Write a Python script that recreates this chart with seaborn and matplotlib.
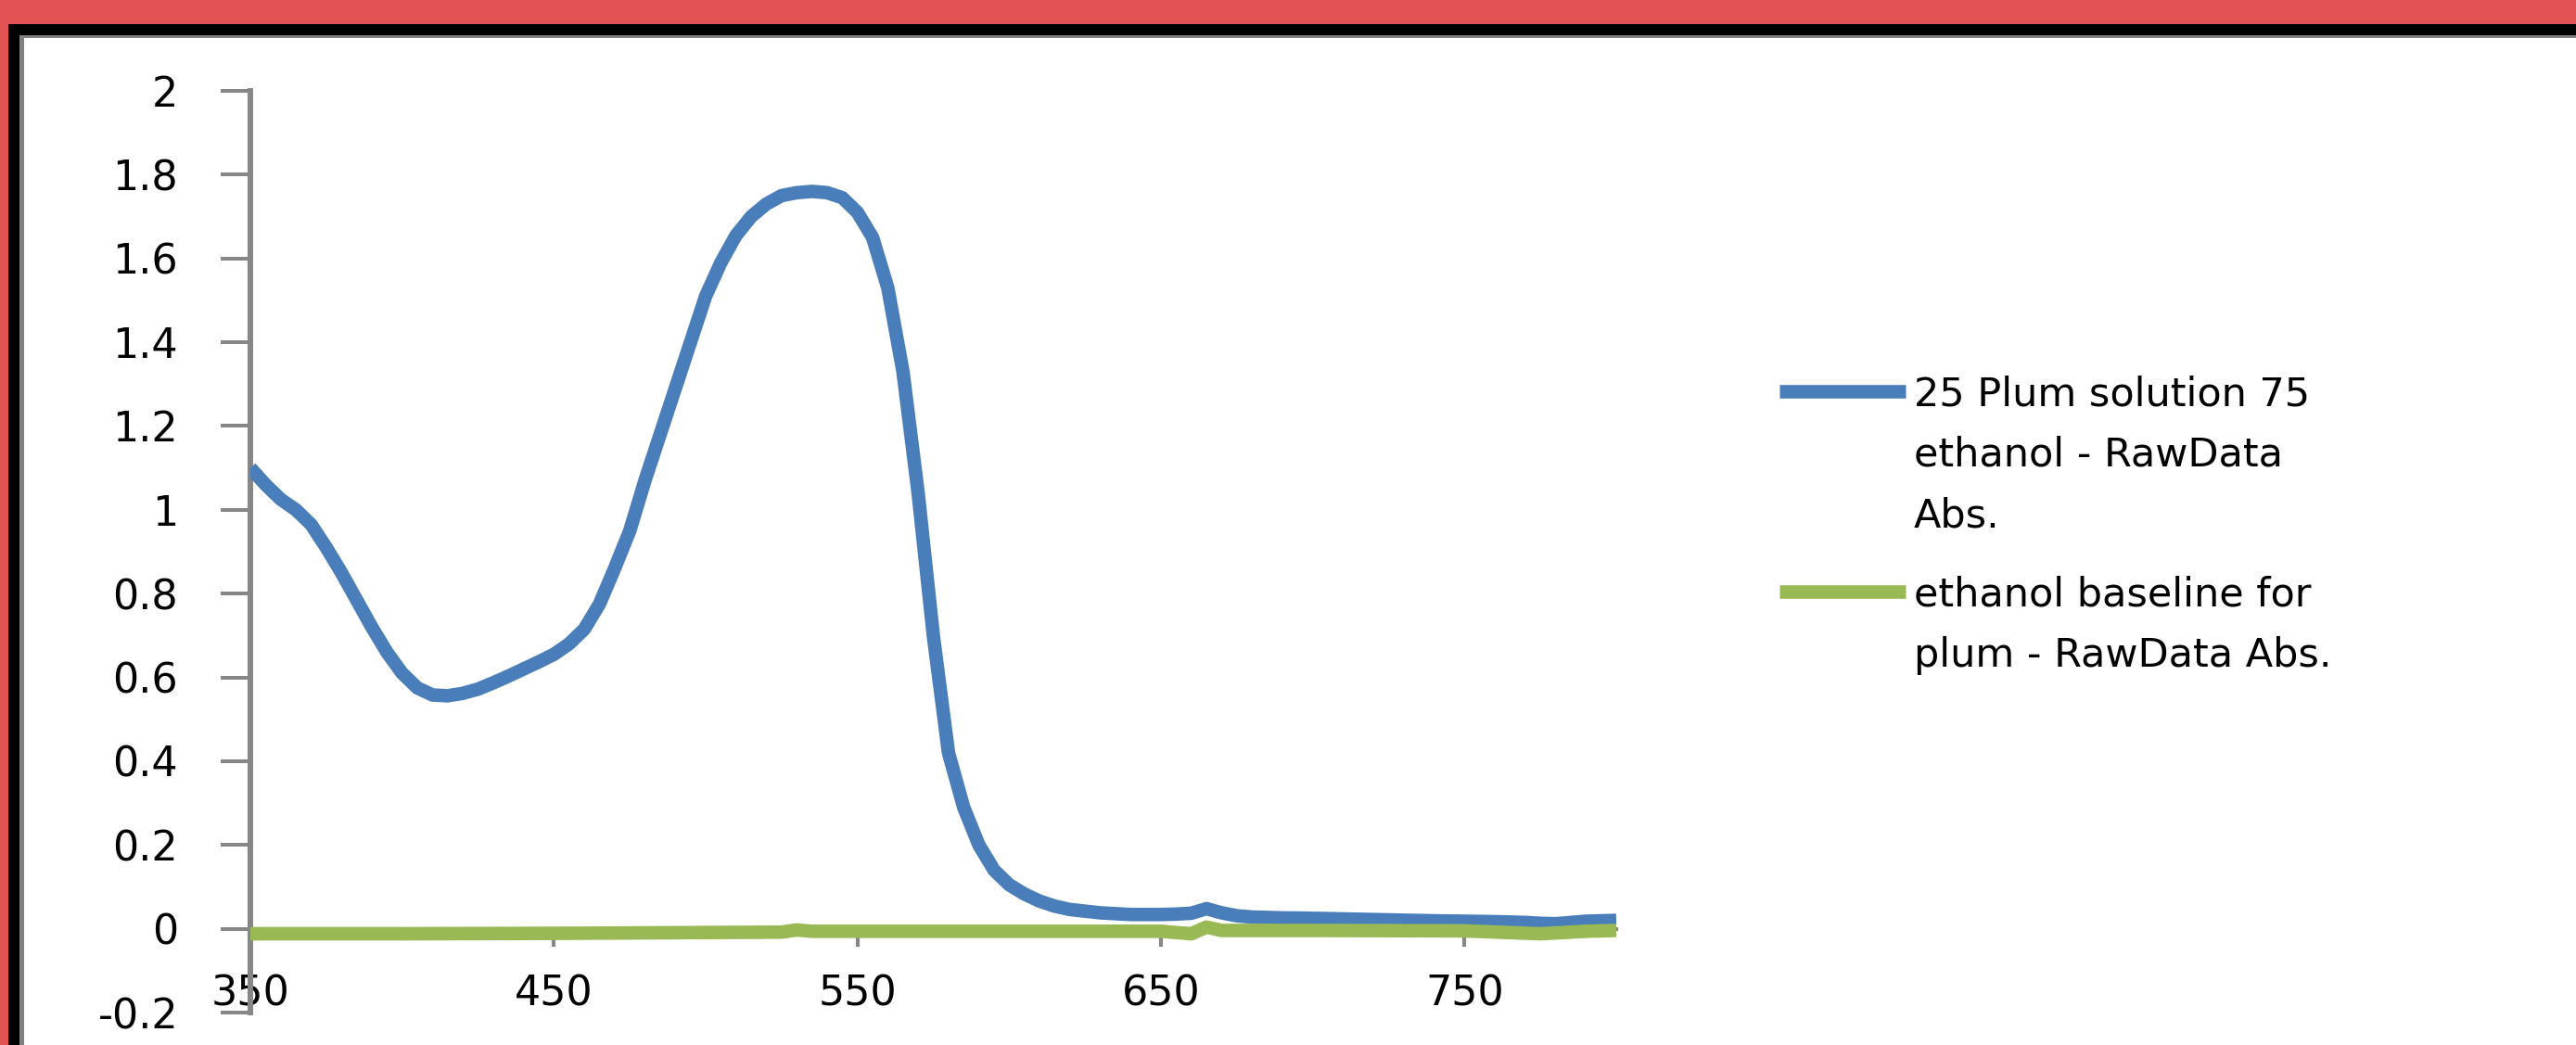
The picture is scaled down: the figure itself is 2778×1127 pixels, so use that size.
import numpy as np
import pandas as pd
import matplotlib
matplotlib.use("Agg")
import matplotlib.pyplot as plt
import seaborn as sns
from matplotlib.patches import Rectangle
from matplotlib.lines import Line2D
from matplotlib.ticker import FuncFormatter

# -----------------------------
# DATA
# -----------------------------
wavelength_plum = [350, 355, 360, 365, 370, 375, 380, 385, 390, 395, 400, 405, 410, 415,
                   420, 425, 430, 435, 440, 445, 450, 455, 460, 465, 470, 475, 480, 485,
                   490, 495, 500, 505, 510, 515, 520, 525, 530, 535, 540, 545, 550, 555,
                   560, 565, 570, 575, 580, 585, 590, 595, 600, 605, 610, 615, 620, 630,
                   640, 650, 655, 660, 665, 670, 675, 680, 690, 700, 720, 740, 760, 770,
                   775, 780, 790, 800]
abs_plum = [1.10, 1.06, 1.025, 1.00, 0.965, 0.91, 0.85, 0.785, 0.72, 0.66, 0.61, 0.575,
            0.558, 0.556, 0.562, 0.572, 0.587, 0.603, 0.62, 0.637, 0.655, 0.68, 0.715,
            0.775, 0.86, 0.95, 1.07, 1.18, 1.29, 1.40, 1.51, 1.59, 1.655, 1.70, 1.73,
            1.75, 1.757, 1.76, 1.757, 1.745, 1.71, 1.65, 1.53, 1.33, 1.04, 0.70, 0.42,
            0.29, 0.20, 0.14, 0.105, 0.083, 0.066, 0.054, 0.046, 0.038, 0.034, 0.034,
            0.035, 0.037, 0.048, 0.038, 0.031, 0.028, 0.026, 0.025, 0.022, 0.019,
            0.017, 0.015, 0.013, 0.012, 0.018, 0.02]

wavelength_base = [350, 400, 450, 500, 525, 530, 535, 550, 600, 650, 660, 665, 670,
                   700, 750, 775, 790, 800]
abs_base = [-0.012, -0.012, -0.011, -0.009, -0.008, -0.003, -0.006, -0.006, -0.006,
            -0.006, -0.012, 0.004, -0.004, -0.004, -0.005, -0.012, -0.006, -0.004]

label_plum = "25 Plum solution 75\nethanol - RawData\nAbs."
label_base = "ethanol baseline for\nplum - RawData Abs."

x_ticks = [350, 450, 550, 650, 750]
y_ticks = [-0.2, 0, 0.2, 0.4, 0.6, 0.8, 1, 1.2, 1.4, 1.6, 1.8, 2]

BLUE = "#4A7EBB"
GREEN = "#98B954"
GREY = "#868686"
LW = 10.5

# -----------------------------
# THEME
# -----------------------------
sns.set_theme(style="white")
plt.rcParams["font.family"] = ["DejaVu Sans"]
plt.rcParams["axes.unicode_minus"] = False

W, H = 2778, 1127
fig = plt.figure(figsize=(W / 100, H / 100), dpi=100)
fig.patch.set_facecolor("white")


def fx(px):
    return px / W


def fy(py):
    return 1 - py / H


# frame: red band, black band, thin grey line (top and left only)
def band(x0, y0, x1, y1, color):
    fig.add_artist(Rectangle((fx(x0), fy(y1)), fx(x1) - fx(x0), fy(y0) - fy(y1),
                             transform=fig.transFigure, facecolor=color,
                             edgecolor="none", zorder=0))


band(0, 0, W, 26, "#E25252")
band(0, 0, 9, H, "#E25252")
band(9, 26, W, 38, "black")
band(9, 26, 21, H, "black")
band(21, 38, W, 41, "#808080")
band(21, 38, 26, H, "#808080")

# -----------------------------
# AXES
# -----------------------------
left, right, top, bottom = 270, 1743, 98, 1092
ax = fig.add_axes([fx(left), fy(bottom), fx(right) - fx(left), fy(top) - fy(bottom)])
ax.set_facecolor("none")

df_plum = pd.DataFrame({"wavelength": wavelength_plum, "abs": abs_plum})
df_base = pd.DataFrame({"wavelength": wavelength_base, "abs": abs_base})

sns.lineplot(data=df_plum, x="wavelength", y="abs", ax=ax, color=BLUE,
             linewidth=LW, zorder=3, legend=False)
sns.lineplot(data=df_base, x="wavelength", y="abs", ax=ax, color=GREEN,
             linewidth=LW, zorder=4, legend=False)
for ln in ax.lines:
    ln.set_solid_joinstyle("round")
    ln.set_solid_capstyle("butt")

ax.set_xlim(350, 800)
ax.set_ylim(-0.2, 2)
ax.set_xlabel("")
ax.set_ylabel("")

ax.spines["top"].set_visible(False)
ax.spines["right"].set_visible(False)
ax.spines["left"].set_color(GREY)
ax.spines["left"].set_linewidth(4.3)
ax.spines["bottom"].set_position(("data", 0))
ax.spines["bottom"].set_color(GREY)
ax.spines["bottom"].set_linewidth(3)

ax.set_yticks(y_ticks)
ax.yaxis.set_major_formatter(FuncFormatter(lambda v, p: f"{v:g}"))
ax.set_xticks(x_ticks)
ax.tick_params(axis="y", direction="out", length=23, width=2.9, color=GREY,
               pad=33, labelsize=32, labelcolor="black", left=True)
ax.tick_params(axis="x", direction="out", length=14, width=3, color=GREY,
               pad=21, labelsize=32, labelcolor="black", bottom=True)

# -----------------------------
# LEGEND (handle aligned with first text line, as in the source)
# -----------------------------
for y_line, color, text in [(422, BLUE, label_plum), (638, GREEN, label_base)]:
    fig.add_artist(Line2D([fx(1919), fx(2055)], [fy(y_line), fy(y_line)],
                          transform=fig.transFigure, color=color, linewidth=LW,
                          solid_capstyle="butt"))
    fig.text(fx(2064), fy(y_line - 18), text, fontsize=31, color="black",
             va="top", ha="left", linespacing=1.72)

fig.savefig("out.png", dpi=100)
